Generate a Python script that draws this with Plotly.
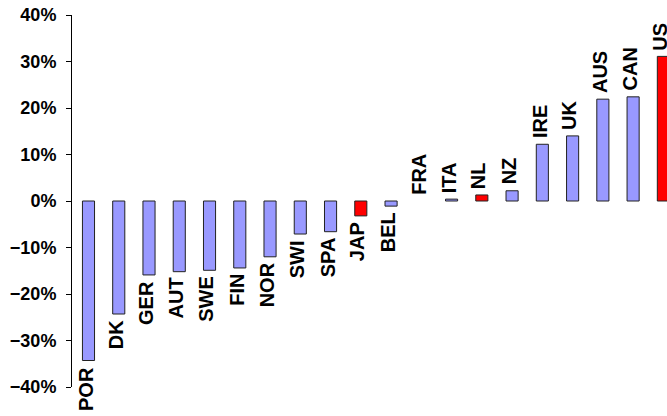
import plotly.graph_objects as go

# Change by country, percent
countries = ["POR", "DK", "GER", "AUT", "SWE", "FIN", "NOR", "SWI", "SPA", "JAP",
             "BEL", "FRA", "ITA", "NL", "NZ", "IRE", "UK", "AUS", "CAN", "US"]
change_pct = [-34.3, -24.3, -15.9, -15.2, -14.9, -14.4, -12.0, -7.1, -6.6, -3.2,
              -1.1, 0.0, 0.4, 1.3, 2.2, 12.2, 14.0, 21.9, 22.4, 31.1]
highlighted = {"JAP", "NL", "US"}

BLUE = "#9999FF"
RED = "#FF0000"
FONT = "Liberation Sans, Arial, sans-serif"
colors = [RED if c in highlighted else BLUE for c in countries]
# no outline on an empty (zero-height) bar
outline_w = [0 if v == 0 else 1 for v in change_pct]

fig = go.Figure(
    go.Bar(
        x=countries,
        y=change_pct,
        width=0.4,
        marker=dict(color=colors, line=dict(color="#222222", width=outline_w)),
        cliponaxis=True,
        hoverinfo="skip",
    )
)

# Country names, rotated, just beyond the end of each bar
for c, v in zip(countries, change_pct):
    below = v < 0
    fig.add_annotation(
        x=c,
        y=v,
        text=c,
        showarrow=False,
        textangle=-90,
        xanchor="center",
        yanchor="top" if below else "bottom",
        xshift=-3,
        yshift=-4 if below else 4,
        font=dict(family=FONT, size=20, color="black", weight="bold"),
    )

fig.update_layout(
    width=667,
    height=416,
    margin=dict(l=72, r=0, t=15, b=29),
    paper_bgcolor="white",
    plot_bgcolor="white",
    showlegend=False,
    font=dict(family=FONT, color="black"),
)

fig.update_xaxes(
    range=[-0.545, 19.12],
    showticklabels=False,
    ticks="",
    showline=False,
    showgrid=False,
    zeroline=False,
)

fig.update_yaxes(
    range=[-40, 40],
    dtick=10,
    tick0=0,
    ticksuffix="%",
    ticks="outside",
    ticklen=5,
    tickcolor="black",
    tickwidth=1,
    ticklabelstandoff=6,
    showline=True,
    linecolor="black",
    linewidth=1,
    showgrid=False,
    zeroline=False,
    tickfont=dict(family=FONT, size=18, color="black", weight="bold"),
)

fig.write_html("out.html")
